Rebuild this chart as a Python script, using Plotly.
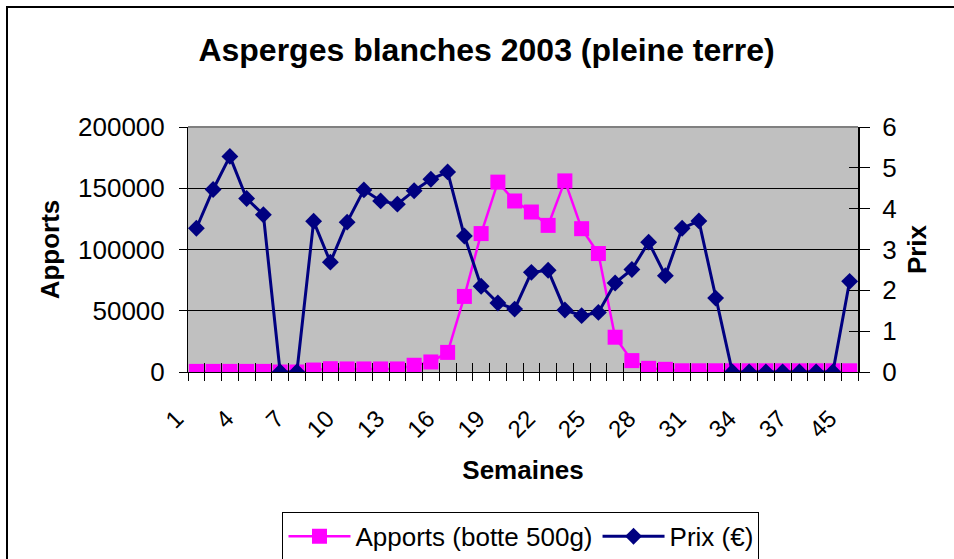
import plotly.graph_objects as go

# ---- data ----
weeks = [str(w) for w in list(range(1, 40)) + [45]]
apports = [500, 500, 500, 500, 500, 0, 0, 1600, 2700, 2500,
           2500, 2500, 2500, 5500, 8200, 16000, 61700, 113000, 155000, 139600,
           130600, 119700, 156000, 117000, 96700, 28400, 9300, 3000, 2200, 1000,
           1000, 1000, 1000, 1000, 1000, 1000, 1000, 1000, 1000, 1000]
prix = [3.52, 4.47, 5.28, 4.25, 3.85, 0, 0, 3.69, 2.69, 3.67,
        4.46, 4.19, 4.11, 4.44, 4.72, 4.90, 3.33, 2.10, 1.69, 1.54,
        2.44, 2.49, 1.52, 1.38, 1.46, 2.18, 2.51, 3.18, 2.36, 3.52,
        3.70, 1.81, 0, 0, 0, 0, 0, 0, 0, 2.22]
tick_text = [w if i % 3 == 0 else "" for i, w in enumerate(weeks)]
left_ticks = [0, 50000, 100000, 150000, 200000]
left_text = [str(v) for v in left_ticks]
right_ticks = [0, 1, 2, 3, 4, 5, 6]

FONT = "Liberation Sans, Arial, sans-serif"
PINK = "#FF00FF"
NAVY = "#000080"

fig = go.Figure()
fig.add_trace(go.Scatter(
    x=weeks, y=apports, name="Apports (botte 500g)", mode="lines+markers",
    line=dict(color=PINK, width=2.5),
    marker=dict(symbol="square", size=15, color=PINK),
    xaxis="x", yaxis="y"))
fig.add_trace(go.Scatter(
    x=weeks, y=prix, name="Prix (€)", mode="lines+markers",
    line=dict(color=NAVY, width=3),
    marker=dict(symbol="diamond", size=13, color=NAVY),
    xaxis="x2", yaxis="y2"))
# helper trace (no visible points) so that the inner tick axis is drawn
fig.add_trace(go.Scatter(
    x=weeks, y=[None] * len(weeks), showlegend=False, hoverinfo="skip",
    mode="lines", xaxis="x2", yaxis="y3"))

fig.update_layout(
    width=954, height=559,
    margin=dict(l=188, r=96, t=127, b=187, autoexpand=False),
    paper_bgcolor="white", plot_bgcolor="#C0C0C0",
    font=dict(family=FONT, size=26, color="black"),
    title=dict(text="<b>Asperges blanches 2003 (pleine terre)</b>",
               font=dict(family=FONT, size=32, color="black"),
               x=0.51, xanchor="center", xref="container",
               y=1 - 50 / 559, yanchor="middle", yref="container",
               automargin=False),
    xaxis=dict(type="category", categoryorder="array", categoryarray=weeks,
               range=[-0.5, len(weeks) - 0.5], automargin=False,
               tickmode="array", tickvals=weeks, ticktext=tick_text,
               tickson="boundaries", ticks="outside", ticklen=8,
               tickcolor="black", tickwidth=1, tickangle=-45,
               tickfont=dict(size=24), ticklabelstandoff=22, ticklabelshift=-20,
               showline=True, linecolor="black", linewidth=1,
               showgrid=False, zeroline=False,
               title=dict(text="<b>Semaines</b>", font=dict(size=26), standoff=19)),
    xaxis2=dict(type="category", categoryorder="array", categoryarray=weeks,
                range=[-0.5, len(weeks) - 0.5], overlaying="x", side="bottom",
                anchor="y", matches="x", automargin=False,
                tickmode="array", tickvals=weeks, tickson="boundaries",
                ticks="inside", ticklen=9, tickcolor="black", tickwidth=1,
                showticklabels=False, showgrid=False, zeroline=False,
                showline=False),
    yaxis=dict(range=[0, 200000], tickmode="array", tickvals=left_ticks,
               ticktext=left_text, automargin=False,
               ticks="outside", ticklen=8, tickcolor="black",
               tickfont=dict(size=26), ticklabelstandoff=9,
               showline=True, linecolor="black", linewidth=1,
               showgrid=True, gridcolor="black", gridwidth=1, zeroline=False,
               title=dict(text="<b>Apports</b>", font=dict(size=26), standoff=10)),
    yaxis2=dict(range=[0, 6], tickmode="array", tickvals=right_ticks,
                overlaying="y", side="right", anchor="x2", automargin=False,
                ticks="outside", ticklen=10, tickcolor="black",
                tickfont=dict(size=26), ticklabelstandoff=7,
                showline=True, linecolor="black", linewidth=2,
                showgrid=False, zeroline=False,
                title=dict(text="<b>Prix</b>", font=dict(size=26), standoff=12)),
    yaxis3=dict(range=[0, 6], tickmode="array", tickvals=right_ticks,
                overlaying="y", side="right", anchor="x2", automargin=False,
                ticks="inside", ticklen=9, tickcolor="black",
                showticklabels=False, showline=False, showgrid=False,
                zeroline=False),
    legend=dict(orientation="h", x=0.497, xanchor="center", y=-0.571, yanchor="top",
                bgcolor="white", bordercolor="black", borderwidth=1,
                font=dict(size=26), itemwidth=62, tracegroupgap=0),
    showlegend=True,
    shapes=[
        dict(type="line", xref="x domain", yref="y domain", x0=0, x1=1, y0=1, y1=1,
             line=dict(color="#808080", width=2)),
        dict(type="rect", xref="paper", yref="paper",
             x0=(7 - 188) / 670, x1=(970 - 188) / 670,
             y0=(372 - 575) / 245, y1=(372 - 7) / 245,
             line=dict(color="black", width=2), fillcolor="rgba(0,0,0,0)"),
    ],
)

fig.write_html("out.html",
               config={"displayModeBar": False},
               post_script="document.body.style.margin='0';"
                           "document.body.style.overflow='hidden';")
